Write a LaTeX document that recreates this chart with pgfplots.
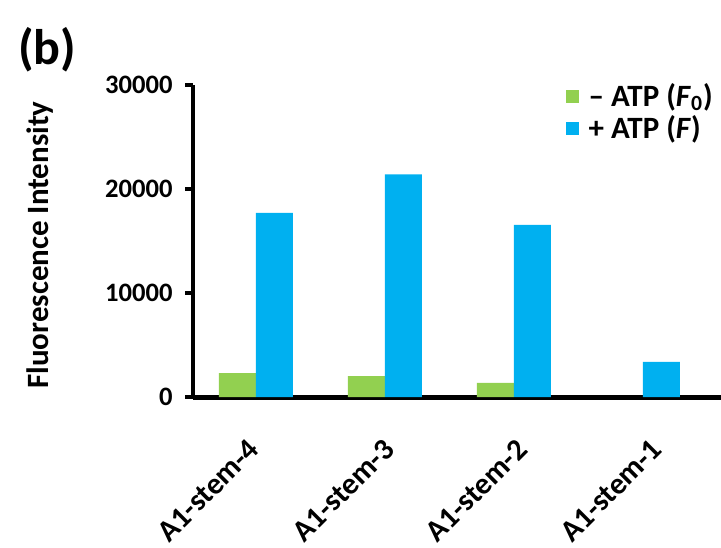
\documentclass[border=0pt]{standalone}
\usepackage{fontspec}
\setmainfont{Carlito}
\usepackage{pgfplots}
\pgfplotsset{compat=1.18}
\definecolor{cgreen}{HTML}{92D050}
\definecolor{cblue}{HTML}{00B0F0}
\pgfplotsset{sqlegend/.style={legend image code/.code={\fill[##1] (0pt,-3.25pt) rectangle (6.5pt,3.25pt);}}}
\begin{document}
\begin{tikzpicture}
\begin{axis}[
  scale only axis, width=264pt, height=156pt,
  xmin=-0.488, xmax=3.605, ymin=0, ymax=30000,
  axis x line=bottom, axis y line=left,
  x axis line style={-, line width=2.5pt},
  y axis line style={-, line width=2pt},
  ytick={0,10000,20000,30000},
  scaled y ticks=false,
  /pgf/number format/1000 sep={},
  /pgf/number format/assume math mode=true,
  ytick style={line width=2pt, black},
  major tick length=4pt,
  tick align=outside,
  xtick={-0.008,1.039,2.07,3.116}, xticklabels={A1-stem-4,A1-stem-3,A1-stem-2,A1-stem-1},
  xtick style={draw=none},
  yticklabel style={font=\fontsize{13.3}{15}\selectfont\bfseries, inner sep=0pt, xshift=-6pt},
  xticklabel style={font=\fontsize{15.2}{18}\selectfont\bfseries, xshift=-4pt, yshift=-16pt, rotate=45, anchor=north east, inner sep=0pt},
  ylabel={Fluorescence Intensity},
  ylabel style={font=\fontsize{15.5}{18}\selectfont\bfseries, at={(axis description cs:-0.29,0.487)}, anchor=center},
  ybar, bar width=0.287,
  legend style={draw=none, fill=none, at={(axis description cs:0.705,1.02)}, anchor=north west, inner sep=0pt, row sep=-1pt, font=\fontsize{15.5}{18}\selectfont\bfseries},
  legend cell align=left,
]
\addplot[fill=cgreen, draw=none, bar shift=-0.1435, sqlegend] coordinates {(0,2300) (1,2000) (2,1350)};
\addplot[fill=cblue, draw=none, bar shift=0.1435, sqlegend] coordinates {(0,17700) (1,21400) (2,16550) (3,3370)};
\legend{\hspace{3pt}\textendash{} ATP (\textit{F}\textsubscript{0}), \hspace{3pt}+ ATP (\textit{F})}
\end{axis}
\node[font=\fontsize{25}{29}\selectfont\bfseries] at (-73pt,173.5pt) {(b)};
\pgfresetboundingbox
\path (-96.5pt,-75pt) rectangle (264pt,198.5pt);
\end{tikzpicture}
\end{document}
